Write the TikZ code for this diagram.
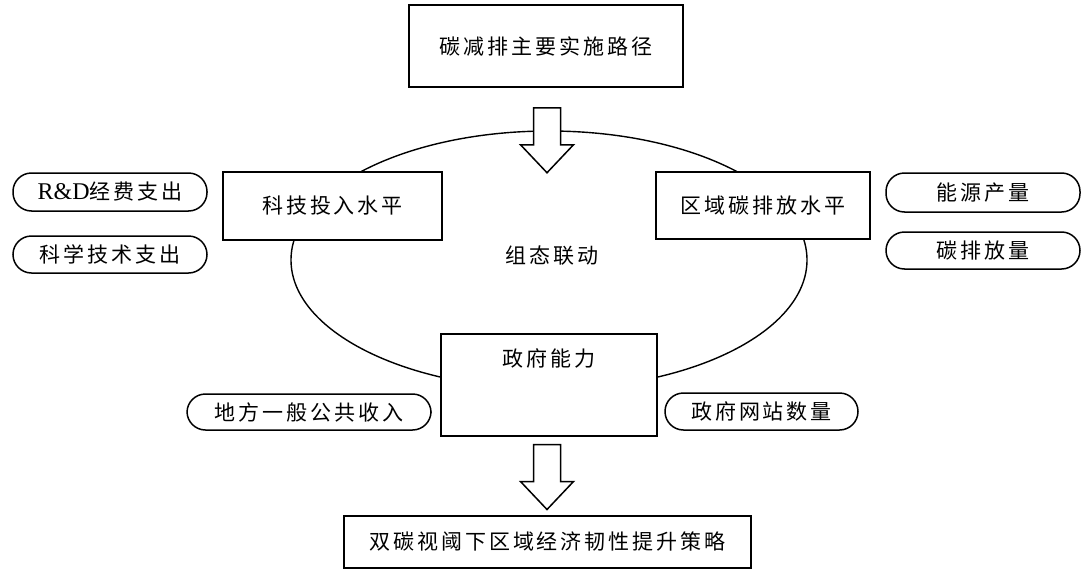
\documentclass[tikz,border=0pt]{standalone}
\usepackage{fontspec}
\setmainfont{Liberation Serif}
\newfontfamily\cjk[LetterSpace=14]{Noto Sans CJK SC}
\usetikzlibrary{shapes.geometric,calc}
\newcommand\fsz{\fontsize{21}{25}\selectfont}
\newcommand\bigarrow[1]{\draw[blockarr] (#1) ++(-13.5,0) -- ++(0,37) -- ++(-13,0) -- ++(26.5,28) -- ++(26.5,-28) -- ++(-13,0) -- ++(0,-37) -- cycle;}
\begin{document}
\begin{tikzpicture}[x=1pt,y=-1pt,
  box/.style={draw, line width=1.5pt, fill=white, inner sep=0pt, font=\fsz\cjk},
  pill/.style={draw, line width=1.5pt, fill=white, rounded corners=18.5pt, inner sep=0pt, minimum width=194pt, font=\fsz\cjk},
  blockarr/.style={draw, line width=1.5pt, fill=white, line join=miter},
  plain/.style={inner sep=0pt, font=\fsz\cjk}]
\useasboundingbox (0,0) rectangle (1089,570);
% loop ellipse
\node[ellipse, draw, line width=1.4pt, minimum width=516pt, minimum height=258pt, inner sep=0pt] (loop) at (549,260) {};
\node[plain] (link) at (552,256) {组态联动};
% main boxes
\node[box, minimum width=274pt, minimum height=82pt] (top) at (546,46) {碳减排主要实施路径};
\node[box, minimum width=219pt, minimum height=68pt] (tech) at (332.5,206) {科技投入水平};
\node[box, minimum width=214pt, minimum height=67pt] (region) at (763,205.5) {区域碳排放水平};
\node[box, minimum width=216pt, text height=33pt, text depth=69pt, anchor=north] (gov) at (549,333) {政府能力};
\node[box, minimum width=407pt, minimum height=52pt] (bottom) at (547.5,542) {双碳视阈下区域经济韧性提升策略};
% indicator pills
\node[pill, minimum height=38pt] (rd) at (110,192) {{\fontsize{24}{26}\selectfont\rmfamily R\&D}经费支出};
\node[pill, minimum height=37pt] (sci) at (110,254.5) {科学技术支出};
\node[pill, minimum height=39pt] (energy) at (983,192.5) {能源产量};
\node[pill, minimum height=37pt] (carbon) at (983,250.5) {碳排放量};
\node[pill, minimum width=244pt, minimum height=36pt] (local) at (309,412) {地方一般公共收入};
\node[pill, minimum width=193pt, minimum height=37pt] (web) at (761.5,411.5) {政府网站数量};
% block arrows
\coordinate (a1) at ($(top.south)+(1,20)$);
\coordinate (a2) at ($(gov.south)+(-2,8)$);
\bigarrow{a1}
\bigarrow{a2}
\end{tikzpicture}
\end{document}
